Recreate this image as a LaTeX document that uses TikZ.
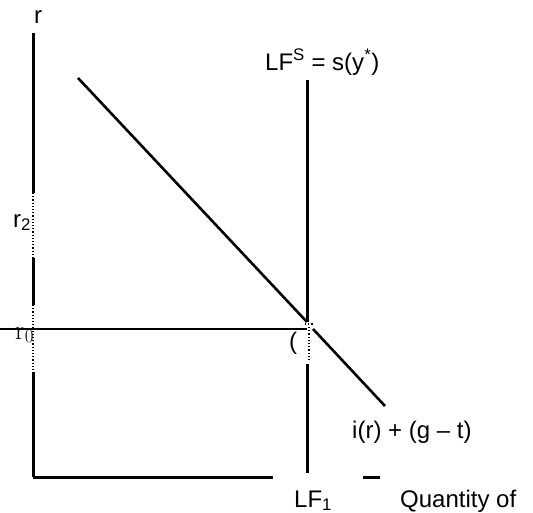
\documentclass[tikz,border=0pt]{standalone}
\usepackage{fontspec}
\setsansfont{Liberation Sans}
\begin{document}
\begin{tikzpicture}[x=1pt,y=-1pt,
	axis/.style={line width=3pt},
	curve/.style={line width=2.6pt},
	gapline/.style={line width=1.2pt,dotted},
	lbl/.style={font=\sffamily\fontsize{24}{28}\selectfont,inner sep=0pt,anchor=base west}]
	\useasboundingbox (0,0) rectangle (533,512);
	% axes
	\coordinate (top) at (33,33);
	\coordinate (origin) at (33,477);
	\coordinate (xend) at (380,477);
	\draw[axis] (top) -- (33,193);
	\draw[gapline] (33,193) -- (33,258);
	\draw[axis] (33,258) -- (33,305);
	\draw[gapline] (33,305) -- (33,370);
	\draw[axis] (33,372) -- (origin);
	\draw[axis] (origin) -- (273,477);
	\draw[axis] (363,477) -- (xend);
	% supply of loanable funds
	\coordinate (lftop) at (307,80);
	\coordinate (lfeq) at (307,322);
	\coordinate (lfbot) at (307,473);
	\draw[axis] (lftop) -- (lfeq);
	\draw[gapline] (305,324) -- (313,324);
	\draw[gapline] (309,327) -- (309,362);
	\draw[axis] (307,364) -- (lfbot);
	% r0 line
	\coordinate (rzero) at (0,329);
	\draw[line width=2pt] (rzero) -- (307,329);
	% demand
	\coordinate (dtop) at (78,78);
	\coordinate (dbot) at (385,406);
	\draw[curve] (dtop) -- (lfeq);
	\draw[curve] (313,329) -- (dbot);
	% labels
	\node[lbl,anchor=base] (rlabel) at (38,23) {r};
	\node[lbl] (rtwo) at (13,227) {r\textsubscript{2}};
	\node[lbl,font=\rmfamily\fontsize{27}{31}\selectfont] (rnull) at (15,339) {r\textsubscript{0}};
	\node[lbl] (lfs) at (265,70) {LF\textsuperscript{S} = s(y\textsuperscript{*})};
	\node[lbl] (paren) at (289,349) {(};
	\node[lbl] (demand) at (352,438) {i(r) + (g – t)};
	\node[lbl] (lfone) at (294,507) {LF\textsubscript{1}};
	\node[lbl] (qty) at (400,507) {Quantity of};
\end{tikzpicture}
\end{document}
